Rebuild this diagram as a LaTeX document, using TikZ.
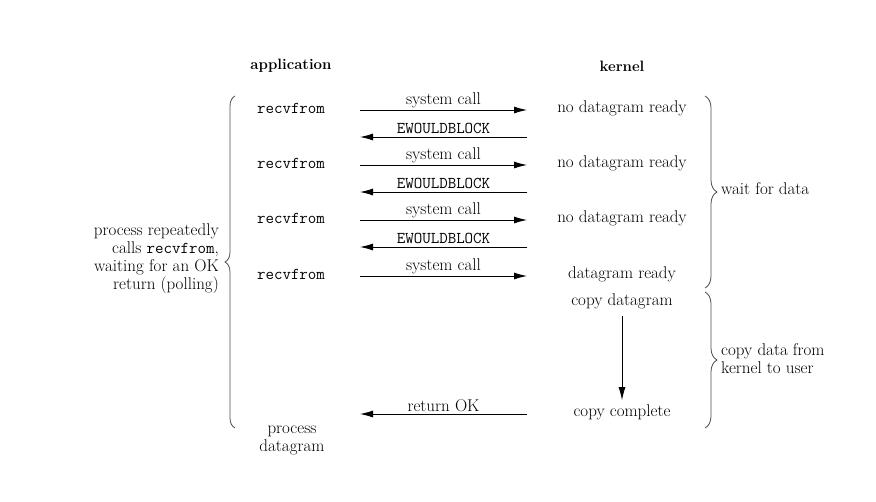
\documentclass[tikz,border=0pt]{standalone}
\usepackage{fontspec}
\usetikzlibrary{arrows.meta}
\usetikzlibrary{decorations.pathreplacing}

\tikzset{
    txt/.style={font=\fontsize{17}{18}\selectfont, inner sep=1pt},
    mono/.style={font=\fontsize{16.5}{18}\selectfont\ttfamily, inner sep=1pt},
    head/.style={font=\fontsize{15}{18}\selectfont\bfseries, inner sep=1pt},
    arr/.style={-{Latex[length=13pt,width=7pt]}, line width=0.9pt},
    brc/.style={decorate, decoration={brace, amplitude=#1}, line width=0.8pt, gray!60!black},
    brc/.default=10pt
}

\begin{document}
\begin{tikzpicture}[x=1pt,y=-1pt]

    % page frame
    \useasboundingbox (0,0) rectangle (876,501);

    % column headings
    \node[head] (app) at (291,66) {application};
    \node[head] (kern) at (622,66) {kernel};

    % polling rounds that fail
    \foreach \i/\y in {1/108,2/163,3/218} {
        \node[mono] (r\i) at (291,\y) {recvfrom};
        \node[txt] (k\i) at (622,\y) {no datagram ready};
        \coordinate (cl\i) at (360,\y+2);
        \coordinate (cr\i) at (527,\y+2);
        \coordinate (bl\i) at (360,\y+29);
        \coordinate (br\i) at (527,\y+29);
        \draw[arr] (cl\i) -- node[txt, above=1pt] {system call} (cr\i);
        \draw[arr] (br\i) -- node[mono, above=2pt] {EWOULDBLOCK} (bl\i);
    }

    % last round
    \node[mono] (r4) at (291,274) {recvfrom};
    \node[txt] (k4) at (622,274) {datagram ready};
    \coordinate (cl4) at (360,276);
    \coordinate (cr4) at (527,276);
    \draw[arr] (cl4) -- node[txt, above=1pt] {system call} (cr4);

    % copy phase
    \node[txt] (copy) at (622,301) {copy datagram};
    \node[txt] (done) at (622,412) {copy complete};
    \draw[arr, shorten <=6pt, shorten >=3pt] (copy) -- (done);

    \coordinate (okl) at (360,414);
    \coordinate (okr) at (527,414);
    \draw[arr] (okr) -- node[txt, above=1pt] {return OK} (okl);

    \node[txt, align=center] (proc) at (292,440) {process\\datagram};

    % braces
    \draw[brc] (235,428) -- (235,96);
    \node[txt, anchor=east, align=right] (poll) at (220,259)
        {process repeatedly\\calls {\fontsize{16.5}{18}\selectfont\ttfamily recvfrom},\\waiting for an OK\\return (polling)};

    \draw[brc=12pt] (705,96) -- (705,288);
    \node[txt, anchor=west] (wait) at (720,189) {wait for data};

    \draw[brc=12pt] (705,292) -- (705,428);
    \node[txt, anchor=west, align=left] (cpy) at (720,359) {copy data from\\kernel to user};

\end{tikzpicture}
\end{document}
